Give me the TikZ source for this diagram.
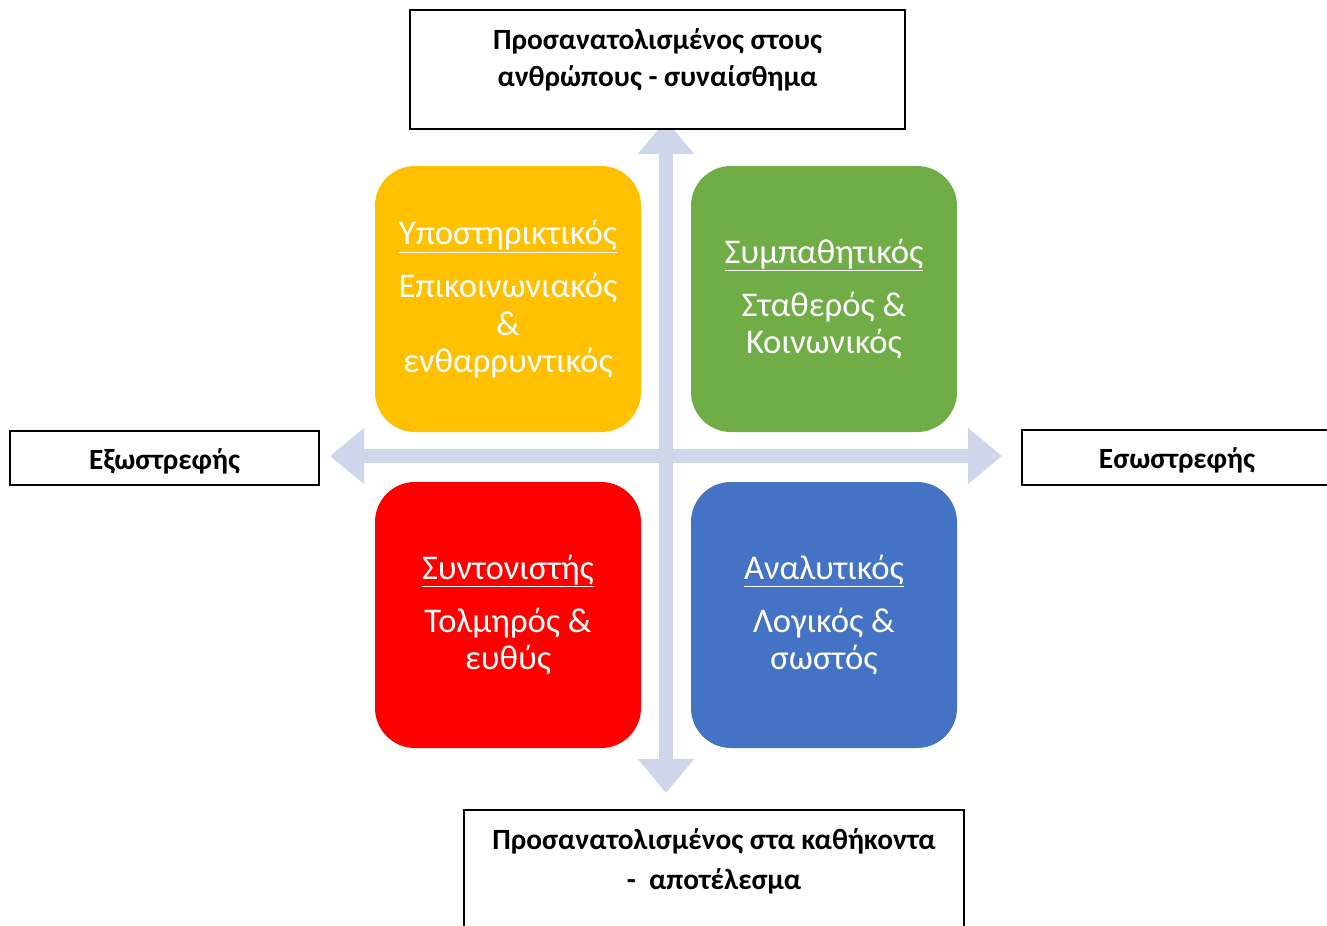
\documentclass[tikz,border=0pt]{standalone}
\usepackage{fontspec}
\setmainfont{Carlito}
\usetikzlibrary{arrows.meta}
\definecolor{suppcol}{HTML}{FFC000}
\definecolor{sympcol}{HTML}{70AD47}
\definecolor{coordcol}{HTML}{FF0000}
\definecolor{analcol}{HTML}{4472C4}
\definecolor{axiscol}{HTML}{CFD5EA}
\begin{document}
\begin{tikzpicture}[
        x=0.75pt, y=-0.75pt,
        quad/.style={fill=#1, rounded corners=30pt, minimum width=199.5pt, minimum height=199.5pt,
            align=center, text=white, inner sep=0pt, font=\fontsize{26}{28}\selectfont},
        tag/.style={draw=black, line width=1.5pt, fill=white, align=center, inner sep=0pt,
            font=\bfseries\fontsize{22}{27.75}\selectfont},
        axis/.style={draw=axiscol, line width=10.5pt,
            {Triangle[width=40.5pt,length=25.5pt]}-{Triangle[width=40.5pt,length=25.5pt]}}
    ]
    \useasboundingbox (0,0) rectangle (1327,925);
    % axes
    \coordinate (up) at (666,120);
    \coordinate (down) at (666,793);
    \coordinate (left) at (330,456);
    \coordinate (right) at (1002,456);
    \draw[axis] (down) -- (up);
    \draw[axis] (left) -- (right);
    % quadrants
    \node[quad=suppcol] (supp) at (508,299) {\underline{Υποστηρικτικός}\\[12pt]Επικοινωνιακός\\\&\\ενθαρρυντικός};
    \node[quad=sympcol] (symp) at (824,299) {\underline{Συμπαθητικός}\\[12pt]Σταθερός \&\\Κοινωνικός};
    \node[quad=coordcol] (coord) at (508,615) {\underline{Συντονιστής}\\[12pt]Τολμηρός \&\\ευθύς};
    \node[quad=analcol] (anal) at (824,615) {\underline{Αναλυτικός}\\[12pt]Λογικός \&\\σωστός};
    % labels
    \node[tag, minimum width=371.25pt, text height=57.6pt, text depth=31.65pt] (people) at (657.5,69.5)
        {Προσανατολισμένος στους\\ανθρώπους - συναίσθημα};
    \node[tag, minimum width=375pt, text height=59.65pt, text depth=34.1pt,
        font=\bfseries\fontsize{22}{30}\selectfont] (task) at (714,872.5)
        {Προσανατολισμένος στα καθήκοντα\\-\ \ αποτέλεσμα};
    \node[tag, minimum width=231.75pt, text height=29pt, text depth=11.5pt] (extro) at (164.5,458) {Εξωστρεφής};
    \node[tag, minimum width=232.5pt, text height=29pt, text depth=12.25pt] (intro) at (1177,457.5) {Εσωστρεφής};
\end{tikzpicture}
\end{document}
